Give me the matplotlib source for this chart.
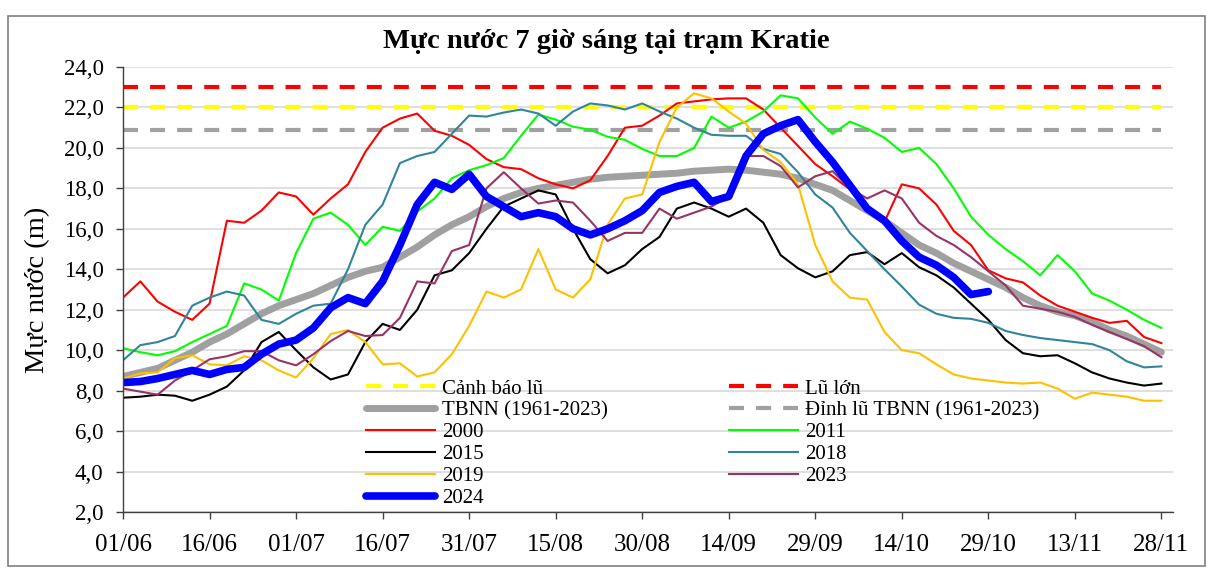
import numpy as np
import matplotlib.pyplot as plt
from matplotlib.patches import Rectangle
from datetime import date, timedelta

# days counted from 01/06, one value every 3 days
days = np.arange(0, 181, 3)

tbnn = [8.7, 8.9, 9.1, 9.5, 9.9, 10.4, 10.8, 11.3, 11.8, 12.2,
        12.5, 12.8, 13.2, 13.6, 13.9, 14.1, 14.6, 15.1, 15.7, 16.2,
        16.6, 17.1, 17.5, 17.8, 18.0, 18.15, 18.3, 18.45, 18.55, 18.6,
        18.65, 18.7, 18.75, 18.85, 18.9, 18.95, 18.9, 18.8, 18.7, 18.5,
        18.2, 17.9, 17.4, 16.9, 16.4, 15.8, 15.2, 14.8, 14.3, 13.9,
        13.5, 13.1, 12.6, 12.2, 11.9, 11.7, 11.4, 11.0, 10.7, 10.3,
        9.9]

y2000 = [12.6, 13.4, 12.4, 11.9, 11.5, 12.3, 16.4, 16.3, 16.9, 17.8,
         17.6, 16.7, 17.5, 18.2, 19.8, 21.0, 21.45, 21.7, 20.85, 20.6,
         20.15, 19.45, 19.05, 18.95, 18.5, 18.2, 18.0, 18.4, 19.6, 21.0,
         21.1, 21.6, 22.2, 22.3, 22.4, 22.45, 22.45, 21.9, 21.0, 20.1,
         19.2, 18.6, 17.95, 17.1, 16.35, 18.2, 18.0, 17.2, 15.9, 15.2,
         13.95, 13.55, 13.35, 12.7, 12.2, 11.9, 11.6, 11.35, 11.45, 10.65,
         10.35]

y2011 = [10.1, 9.9, 9.75, 9.95, 10.4, 10.8, 11.2, 13.3, 13.0, 12.45,
         14.8, 16.5, 16.8, 16.2, 15.2, 16.1, 15.9, 16.85, 17.5, 18.5,
         18.9, 19.15, 19.5, 20.6, 21.65, 21.4, 21.05, 20.9, 20.55, 20.4,
         19.95, 19.6, 19.6, 20.0, 21.55, 21.0, 21.3, 21.8, 22.6, 22.45,
         21.5, 20.7, 21.3, 20.95, 20.5, 19.8, 20.0, 19.2, 18.0, 16.6,
         15.7, 15.0, 14.4, 13.7, 14.7, 13.9, 12.8, 12.45, 12.0, 11.5,
         11.1]

y2015 = [7.65, 7.7, 7.8, 7.75, 7.5, 7.8, 8.2, 9.0, 10.4, 10.9,
         10.0, 9.15, 8.55, 8.8, 10.4, 11.3, 11.0, 12.0, 13.7, 13.95,
         14.8, 16.0, 17.1, 17.5, 17.9, 17.7, 16.0, 14.5, 13.8, 14.2,
         15.0, 15.6, 17.0, 17.3, 17.0, 16.6, 17.0, 16.3, 14.7, 14.05,
         13.6, 13.9, 14.7, 14.85, 14.25, 14.8, 14.1, 13.7, 13.1, 12.3,
         11.5, 10.5, 9.85, 9.7, 9.75, 9.35, 8.9, 8.6, 8.4, 8.25,
         8.35]

y2018 = [9.5, 10.25, 10.4, 10.7, 12.2, 12.6, 12.9, 12.7, 11.5, 11.3,
         11.8, 12.2, 12.3, 14.0, 16.2, 17.2, 19.25, 19.6, 19.8, 20.7,
         21.6, 21.55, 21.75, 21.9, 21.7, 21.1, 21.8, 22.2, 22.1, 21.9,
         22.2, 21.8, 21.45, 21.0, 20.65, 20.6, 20.6, 19.95, 19.7, 18.8,
         17.7, 17.05, 15.8, 14.9, 14.0, 13.15, 12.25, 11.8, 11.6, 11.55,
         11.35, 10.95, 10.75, 10.6, 10.5, 10.4, 10.3, 10.0, 9.45, 9.15,
         9.2]

y2019 = [8.6, 8.85, 8.9, 9.6, 9.75, 9.3, 9.25, 9.7, 9.5, 9.0,
         8.65, 9.6, 10.8, 11.0, 10.4, 9.3, 9.35, 8.7, 8.9, 9.8,
         11.2, 12.9, 12.6, 13.0, 15.0, 13.0, 12.6, 13.5, 16.2, 17.5,
         17.7, 20.3, 22.0, 22.7, 22.45, 21.8, 21.2, 19.9, 19.3, 18.2,
         15.2, 13.4, 12.6, 12.5, 10.9, 10.0, 9.85, 9.3, 8.8, 8.6,
         8.5, 8.4, 8.35, 8.4, 8.1, 7.6, 7.9, 7.8, 7.7, 7.5,
         7.5]

y2023 = [8.1, 7.95, 7.8, 8.5, 9.0, 9.55, 9.7, 9.95, 9.95, 9.5,
         9.25, 9.8, 10.45, 10.95, 10.7, 10.75, 11.6, 13.4, 13.3, 14.9,
         15.2, 18.0, 18.8, 18.0, 17.25, 17.4, 17.3, 16.4, 15.4, 15.8,
         15.8, 17.0, 16.5, 16.8, 17.1, 17.6, 19.6, 19.6, 19.1, 18.05,
         18.6, 18.85, 18.0, 17.5, 17.9, 17.5, 16.3, 15.65, 15.2, 14.6,
         13.9, 13.2, 12.2, 12.05, 11.9, 11.65, 11.25, 10.9, 10.55, 10.2,
         9.65]

y2024 = [8.4, 8.45, 8.6, 8.8, 9.0, 8.8, 9.05, 9.15, 9.8, 10.3,
         10.5, 11.1, 12.1, 12.6, 12.3, 13.4, 15.2, 17.2, 18.3, 17.95,
         18.7, 17.6, 17.1, 16.6, 16.8, 16.6, 16.0, 15.7, 16.0, 16.4,
         16.9, 17.8, 18.1, 18.3, 17.35, 17.6, 19.6, 20.7, 21.1, 21.4,
         20.3, 19.3, 18.15, 17.0, 16.4, 15.4, 14.6, 14.2, 13.6, 12.75,
         12.9] + [np.nan] * 10

canh_bao = 22.0
lu_lon = 23.0
dinh_tbnn = 20.9

plt.rcParams['font.family'] = ['Liberation Serif', 'DejaVu Serif']

fig = plt.figure(figsize=(12.18, 5.69), dpi=100)
ax = fig.add_axes([0.101, 0.1002, 0.862, 0.782])

dash = (0, (3.6, 2.9))
h_cb, = ax.plot([0, 180], [canh_bao, canh_bao], color='#FFFF00', lw=3, ls=dash,
                label='Cảnh báo lũ')
h_ll, = ax.plot([0, 180], [lu_lon, lu_lon], color='#FF0000', lw=3, ls=dash,
                label='Lũ lớn')
h_tb, = ax.plot(days, tbnn, color='#A0A0A0', lw=5, solid_capstyle='round',
                label='TBNN (1961-2023)')
h_dl, = ax.plot([0, 180], [dinh_tbnn, dinh_tbnn], color='#A0A0A0', lw=3, ls=dash,
                label='Đỉnh lũ TBNN (1961-2023)')
h00, = ax.plot(days, y2000, color='#FF0000', lw=1.5, label='2000')
h11, = ax.plot(days, y2011, color='#00FF00', lw=1.5, label='2011')
h15, = ax.plot(days, y2015, color='#000000', lw=1.5, label='2015')
h18, = ax.plot(days, y2018, color='#31849B', lw=1.5, label='2018')
h19, = ax.plot(days, y2019, color='#FFC000', lw=1.5, label='2019')
h23, = ax.plot(days, y2023, color='#993366', lw=1.5, label='2023')
h24, = ax.plot(days, y2024, color='#0000FF', lw=5.5, solid_capstyle='round',
               label='2024')

ax.set_xlim(0, 182)
ax.set_ylim(2, 24)
ax.set_yticks(np.arange(2, 24.1, 2))
ax.set_yticklabels([f'{v:.1f}'.replace('.', ',') for v in np.arange(2, 24.1, 2)])
xt = np.arange(0, 181, 15)
ax.set_xticks(xt)
ax.set_xticklabels([(date(2024, 6, 1) + timedelta(days=int(d))).strftime('%d/%m')
                    for d in xt])
ax.tick_params(axis='x', labelsize=18, direction='out', length=5, width=1,
               color='#404040', pad=11)
ax.tick_params(axis='y', labelsize=16.5, direction='out', length=5, width=1,
               color='#404040', pad=9)
ax.grid(axis='y', color='#D9D9D9', lw=1.2)
ax.set_axisbelow(True)
for s in ['top', 'right']:
    ax.spines[s].set_visible(False)
for s in ['left', 'bottom']:
    ax.spines[s].set_color('#404040')
    ax.spines[s].set_linewidth(1)

ax.set_ylabel('Mực nước (m)', fontsize=20.5, labelpad=10)
fig.text(0.498, 0.927, 'Mực nước 7 giờ sáng tại trạm Kratie', ha='center',
         va='center', fontsize=20.5, fontweight='bold')

handles = [h_cb, h_tb, h00, h15, h19, h24, h_ll, h_dl, h11, h18, h23]
fig.legend(handles=handles, loc='upper left', bbox_to_anchor=(366 / 1218, 1 - 379 / 569),
           ncol=2, frameon=False, fontsize=15, handlelength=3.3, handletextpad=0.35,
           columnspacing=5.8, labelspacing=0.11, borderpad=0, borderaxespad=0)

fig.add_artist(Rectangle((8 / 1218, 3 / 569), 1197 / 1218, 550 / 569,
                         transform=fig.transFigure, fill=False,
                         edgecolor='#808080', lw=1.2))

fig.savefig('out.png', dpi=100)
